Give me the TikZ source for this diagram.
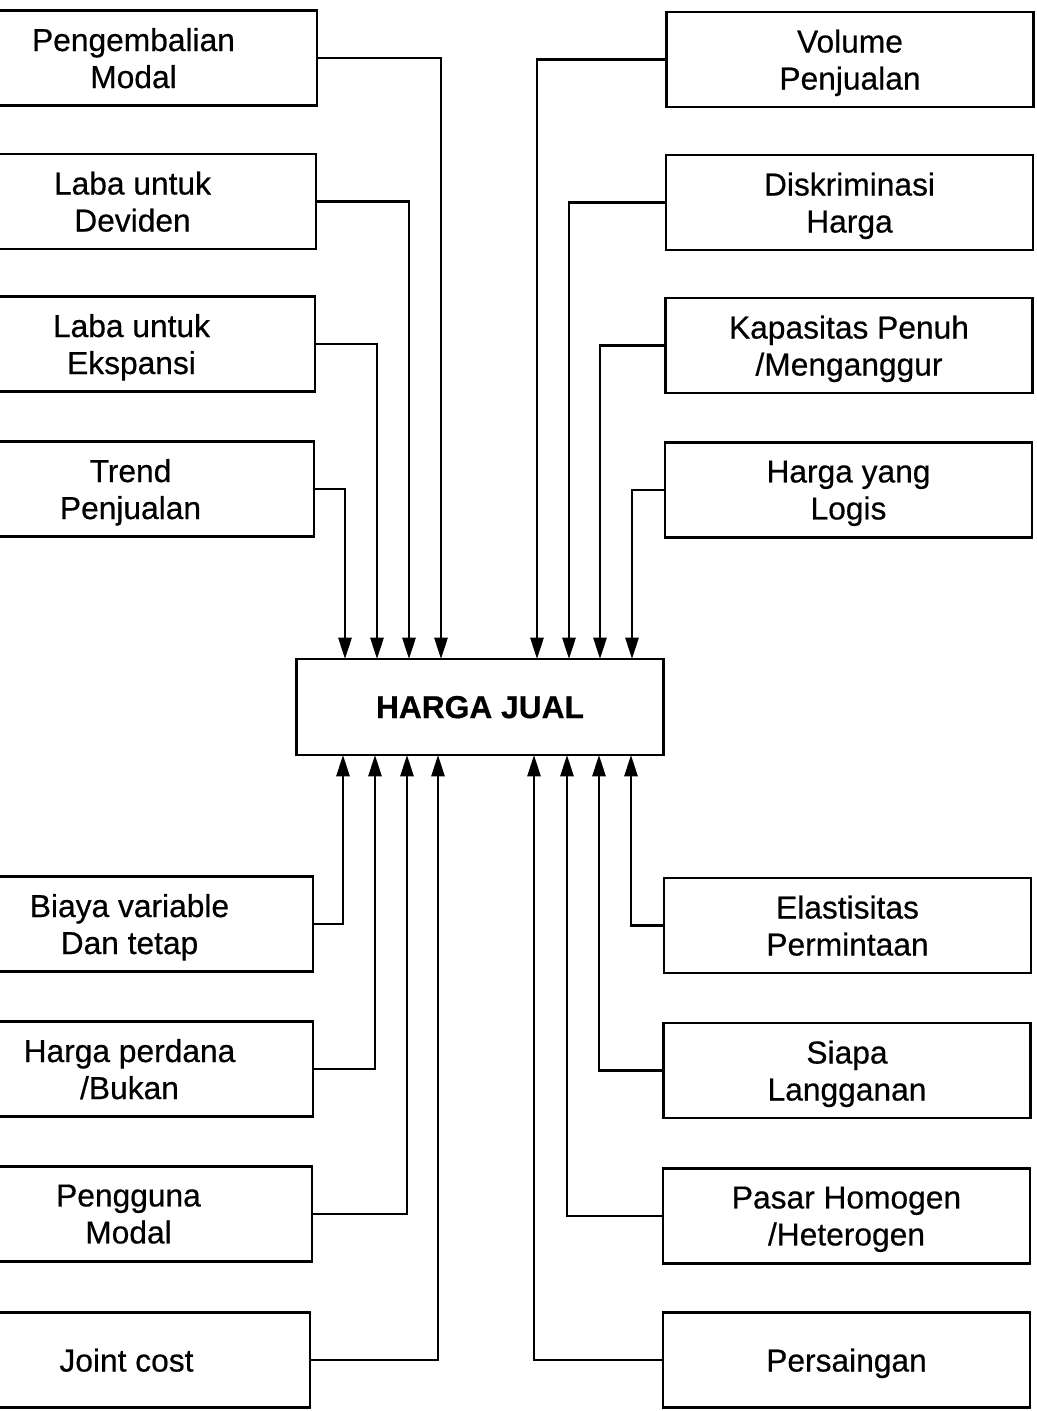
\documentclass[tikz,border=0pt]{standalone}
\usepackage{fontspec}
\setmainfont{Liberation Sans}[FakeBold=0.5]
\newfontfamily\heavyfont{Liberation Sans}[FakeBold=0.5]
\usetikzlibrary{arrows.meta}
\begin{document}
\begin{tikzpicture}[x=0.75pt,y=-0.75pt,
  box/.style={draw,line width=2.1pt,minimum width=275.25pt,minimum height=71.25pt,
    align=center,inner sep=0pt,text depth=0pt,font=\heavyfont\fontsize{23.8pt}{27.75pt}\selectfont},
  mainbox/.style={box,minimum height=72pt,font=\fontsize{23.8pt}{27.75pt}\selectfont\bfseries},
  conn/.style={line width=2.1pt,-{Triangle[width=9.75pt,length=16pt]}}]
\useasboundingbox (0,0) rectangle (1037,1411);
% central box
\node[mainbox] (hj) at (480,707) {HARGA JUAL};
% left boxes
\node[box] (l1) at (133.5,58)   {Pengembalian\\Modal};
\node[box] (l2) at (132.5,201.5){Laba untuk\\Deviden};
\node[box] (l3) at (131.5,344)  {Laba untuk\\Ekspansi};
\node[box] (l4) at (130.5,489)  {Trend\\Penjualan};
\node[box] (l5) at (129.5,924)  {Biaya variable\\Dan tetap};
\node[box] (l6) at (129.5,1069) {Harga perdana\\/Bukan};
\node[box] (l7) at (128.5,1214) {Pengguna\\Modal};
\node[box] (l8) at (126.5,1360) {Joint cost};
% right boxes
\node[box] (r1) at (850,59.5)   {Volume\\Penjualan};
\node[box] (r2) at (849.5,202.5){Diskriminasi\\Harga};
\node[box] (r3) at (849,345.5)  {Kapasitas Penuh\\/Menganggur};
\node[box] (r4) at (848.5,490)  {Harga yang\\Logis};
\node[box] (r5) at (847.5,925.5){Elastisitas\\Permintaan};
\node[box] (r6) at (847,1070.5) {Siapa\\Langganan};
\node[box] (r7) at (846.5,1216) {Pasar Homogen\\/Heterogen};
\node[box] (r8) at (846.5,1360) {Persaingan};
% attachment points on the central box
\coordinate (t1) at (441,659); \coordinate (t2) at (409,659);
\coordinate (t3) at (377,659); \coordinate (t4) at (345,659);
\coordinate (t5) at (537,659); \coordinate (t6) at (569,659);
\coordinate (t7) at (600,659); \coordinate (t8) at (632,659);
\coordinate (b1) at (343,755); \coordinate (b2) at (375,755);
\coordinate (b3) at (407,755); \coordinate (b4) at (438,755);
\coordinate (b5) at (631,755); \coordinate (b6) at (599,755);
\coordinate (b7) at (567,755); \coordinate (b8) at (534,755);
% connectors
\draw[conn] (l1.east) -| (t1);
\draw[conn] (l2.east) -| (t2);
\draw[conn] (l3.east) -| (t3);
\draw[conn] (l4.east) -| (t4);
\draw[conn] (r1.west) -| (t5);
\draw[conn] (r2.west) -| (t6);
\draw[conn] (r3.west) -| (t7);
\draw[conn] (r4.west) -| (t8);
\draw[conn] (l5.east) -| (b1);
\draw[conn] (l6.east) -| (b2);
\draw[conn] (l7.east) -| (b3);
\draw[conn] (l8.east) -| (b4);
\draw[conn] (r5.west) -| (b5);
\draw[conn] (r6.west) -| (b6);
\draw[conn] (r7.west) -| (b7);
\draw[conn] (r8.west) -| (b8);
\end{tikzpicture}
\end{document}
